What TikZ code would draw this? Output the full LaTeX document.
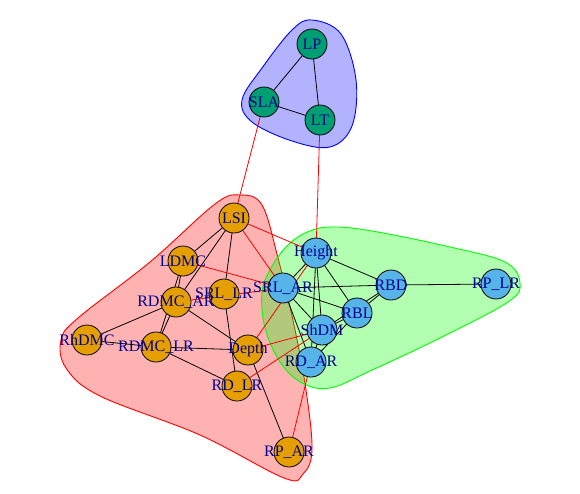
\documentclass[tikz,border=0pt]{standalone}
\usepackage{fontspec}
\setmainfont{Liberation Serif}
\definecolor{vorange}{HTML}{E69F00}
\definecolor{vblue}{HTML}{56B4E9}
\definecolor{vgreen}{HTML}{009E73}
\definecolor{lblcol}{HTML}{00008B}
\tikzset{
  hullR/.style={draw=red, fill=red, fill opacity=0.3, line width=0.9pt},
  hullG/.style={draw=green, fill=green, fill opacity=0.3, line width=0.9pt},
  hullB/.style={draw=blue, fill=blue, fill opacity=0.3, line width=0.9pt},
  edg/.style={draw=black, line width=0.8pt},
  redg/.style={draw=red, line width=0.8pt},
  vtx/.style={circle, draw=black, line width=0.8pt, minimum size=30pt, inner sep=0pt},
  vO/.style={vtx, fill=vorange},
  vB/.style={vtx, fill=vblue},
  vG/.style={vtx, fill=vgreen},
  lbl/.style={text=lblcol, inner sep=0pt, font=\fontsize{16}{17}\selectfont}
}
\begin{document}
\begin{tikzpicture}[x=1pt, y=-1pt]
\useasboundingbox (0,0) rectangle (580,493);
% coordinates of vertices
\coordinate (LP) at (312,44);
\coordinate (SLA) at (264,102);
\coordinate (LT) at (320,120);
\coordinate (LSI) at (234,218);
\coordinate (LDMC) at (183,261);
\coordinate (SRLLR) at (224,294);
\coordinate (RDMCAR) at (176,302);
\coordinate (SRLAR) at (283,288);
\coordinate (Height) at (316,253);
\coordinate (ShDM) at (322,330);
\coordinate (RBL) at (357,313);
\coordinate (RBD) at (391,285);
\coordinate (RPLR) at (496,284);
\coordinate (RDAR) at (311,362);
\coordinate (RhDMC) at (87,340);
\coordinate (RDMCLR) at (156,347);
\coordinate (Depth) at (248,350);
\coordinate (RDLR) at (237,386);
\coordinate (RPAR) at (289,452);
% group hulls
\path[hullR] plot[smooth cycle, tension=0.6] coordinates {
  (240,195) (262,205) (278,258) (294,325) (306,390) (312,450) (303,474)
  (284,478) (200,435) (100,396) (66,368) (61,340) (78,318) (150,262) (215,204)};
\path[hullG] plot[smooth cycle, tension=0.6] coordinates {
  (262,292) (271,268) (286,247) (305,233) (330,227) (372,231) (450,247)
  (505,262) (520,283) (508,302) (440,338) (370,371) (330,388) (302,383)
  (280,362) (265,328)};
\path[hullB] plot[smooth cycle, tension=0.6] coordinates {
  (312,20) (341,34) (356,80) (352,126) (330,147) (292,141) (252,122)
  (242,100) (262,68) (292,30)};
% intra-group edges
\foreach \a/\b in {LP/SLA, LP/LT, SLA/LT,
  LSI/LDMC, LSI/RDMCAR, LSI/SRLLR, LDMC/RDMCAR, LDMC/RDMCLR,
  RDMCAR/RhDMC, RDMCAR/RDMCLR, RDMCAR/Depth, RhDMC/RDMCLR,
  RDMCLR/Depth, RDMCLR/RDLR, SRLLR/RDLR, Depth/RPAR,
  Height/SRLAR, Height/ShDM, Height/RDAR, Height/RBL, Height/RBD,
  SRLAR/RBD, SRLAR/RBL, SRLAR/ShDM, SRLAR/RDAR,
  RBL/RBD, ShDM/RBD, RBL/ShDM, RBL/RDAR, ShDM/RDAR, RBD/RPLR}
  \draw[edg] (\a) -- (\b);
% inter-group edges
\foreach \a/\b in {SLA/LSI, LT/Height, LSI/Height, LSI/SRLAR, LDMC/SRLAR,
  RDMCAR/SRLAR, Height/Depth, Depth/ShDM, RDLR/ShDM, RDAR/RPAR}
  \draw[redg] (\a) -- (\b);
% vertices
\foreach \n in {LP, SLA, LT} \node[vG] (\n v) at (\n) {};
\foreach \n in {LSI, LDMC, SRLLR, RDMCAR, RhDMC, RDMCLR, Depth, RDLR, RPAR}
  \node[vO] (\n v) at (\n) {};
\foreach \n in {Height, SRLAR, ShDM, RBL, RBD, RPLR, RDAR}
  \node[vB] (\n v) at (\n) {};
% labels
\foreach \n/\t in {LP/LP, SLA/SLA, LT/LT, LSI/LSI, LDMC/LDMC, SRLLR/SRL\_LR,
  RDMCAR/RDMC\_AR, RhDMC/RhDMC, RDMCLR/RDMC\_LR, Depth/Depth, RDLR/RD\_LR,
  RPAR/RP\_AR, Height/Height, SRLAR/SRL\_AR, ShDM/ShDM, RBL/RBL, RBD/RBD,
  RPLR/RP\_LR, RDAR/RD\_AR}
  \node[lbl] (\n t) at (\n) {\t};
\end{tikzpicture}
\end{document}
